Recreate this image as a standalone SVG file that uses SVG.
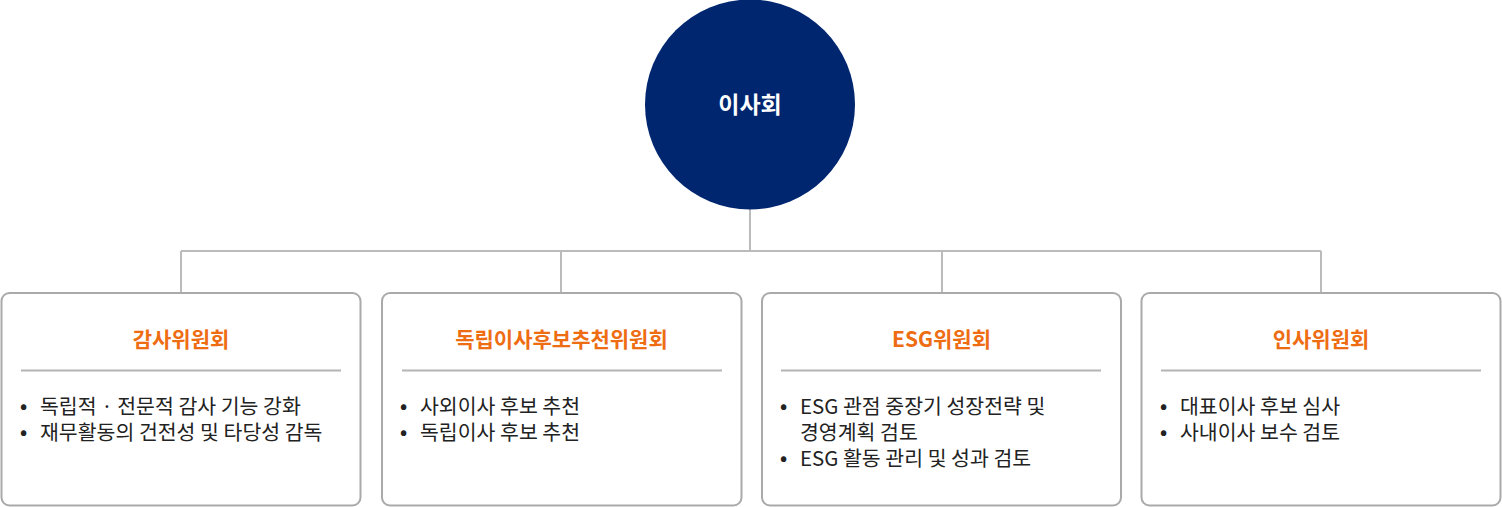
<svg xmlns="http://www.w3.org/2000/svg" width="1502" height="507" viewBox="0 0 1502 507">
<style>
.box{fill:#fff;stroke:#aaaaaa;stroke-width:2}
.sep{stroke:#b4b4b4;stroke-width:2}
.conn{stroke:#bbbbbb;stroke-width:2;fill:none}
.title{font-family:"Noto Sans CJK KR","Noto Sans",sans-serif;font-weight:700;font-size:21px;fill:#ee6c12;text-anchor:middle}
.item{font-family:"Noto Sans CJK KR","Noto Sans",sans-serif;font-size:20.5px;fill:#222222}
.dot{font-size:19px;font-weight:700}
.root{font-family:"Noto Sans CJK KR","Noto Sans",sans-serif;font-weight:700;font-size:23px;fill:#ffffff;text-anchor:middle}
</style>
<rect width="1502" height="507" fill="#ffffff"/>
<g id="connectors">
<path class="conn" d="M750 209V251M181 251H1321M181 251V293M561 251V293M942 251V293M1321 251V293"/>
</g>
<g id="root">
<circle cx="750" cy="104.5" r="105" fill="#002670"/>
<text class="root" x="750" y="112.5">이사회</text>
</g>
<g id="audit">
<rect class="box" x="1.5" y="293" width="359" height="212.5" rx="8"/>
<text class="title" x="181" y="347">감사위원회</text>
<line class="sep" x1="21" y1="370.5" x2="341" y2="370.5"/>
<text class="item"><tspan class="dot" x="20" y="413">•</tspan><tspan x="40" y="414">독립적 · 전문적 감사 기능 강화</tspan><tspan class="dot" x="20" y="439">•</tspan><tspan x="40" y="440">재무활동의 건전성 및 타당성 감독</tspan></text>
</g>
<g id="nomination">
<rect class="box" x="382" y="293" width="359.5" height="212.5" rx="8"/>
<text class="title" x="561.5" y="347">독립이사후보추천위원회</text>
<line class="sep" x1="402" y1="370.5" x2="722" y2="370.5"/>
<text class="item"><tspan class="dot" x="400" y="413">•</tspan><tspan x="420" y="414">사외이사 후보 추천</tspan><tspan class="dot" x="400" y="439">•</tspan><tspan x="420" y="440">독립이사 후보 추천</tspan></text>
</g>
<g id="esg">
<rect class="box" x="762" y="293" width="359" height="212.5" rx="8"/>
<text class="title" x="941.5" y="347">ESG위원회</text>
<line class="sep" x1="781" y1="370.5" x2="1101" y2="370.5"/>
<text class="item"><tspan class="dot" x="780" y="413">•</tspan><tspan x="800" y="414">ESG 관점 중장기 성장전략 및</tspan><tspan x="800" y="440">경영계획 검토</tspan><tspan class="dot" x="780" y="465">•</tspan><tspan x="800" y="466">ESG 활동 관리 및 성과 검토</tspan></text>
</g>
<g id="hr">
<rect class="box" x="1141.5" y="293" width="359" height="212.5" rx="8"/>
<text class="title" x="1321" y="347">인사위원회</text>
<line class="sep" x1="1161" y1="370.5" x2="1481" y2="370.5"/>
<text class="item"><tspan class="dot" x="1160" y="413">•</tspan><tspan x="1180" y="414">대표이사 후보 심사</tspan><tspan class="dot" x="1160" y="439">•</tspan><tspan x="1180" y="440">사내이사 보수 검토</tspan></text>
</g>
</svg>
